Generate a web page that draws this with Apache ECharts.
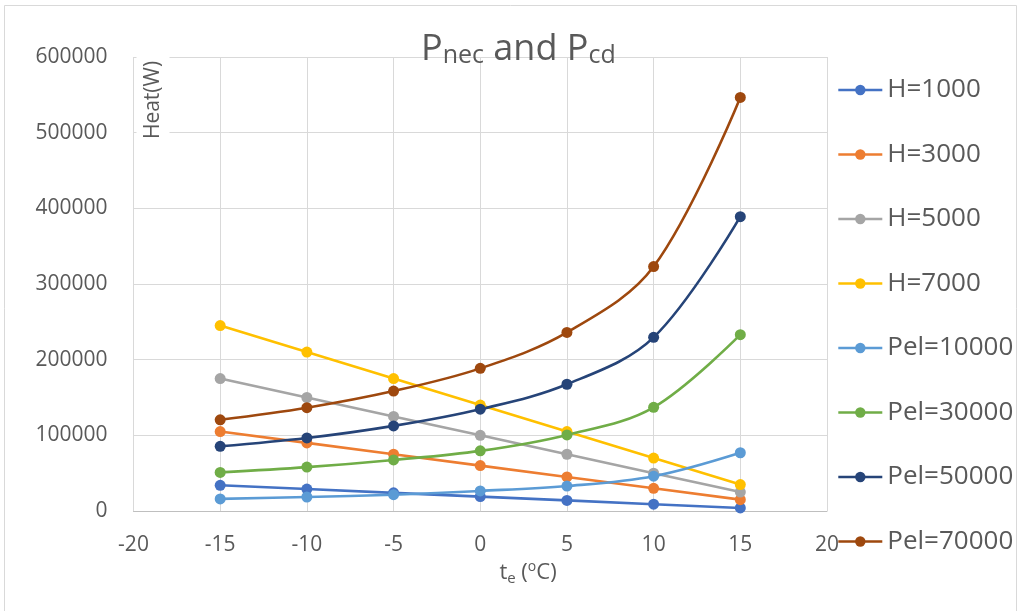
<!DOCTYPE html>
<html>
<head>
<meta charset="utf-8">
<script src="https://cdn.jsdelivr.net/npm/echarts@6/dist/echarts.min.js"></script>
<style>
html,body{margin:0;padding:0;background:#fff;}
#chart{width:1019px;height:611px;}
</style>
</head>
<body>
<div id="chart"></div>
<script>
// ---- data ----
const temps = [-15, -10, -5, 0, 5, 10, 15];
const seriesNames = ['H=1000', 'H=3000', 'H=5000', 'H=7000', 'Pel=10000', 'Pel=30000', 'Pel=50000', 'Pel=70000'];
const h1000 = [34000, 29000, 24000, 19000, 14000, 9000, 4000];
const h3000 = [105000, 90000, 75000, 60000, 45000, 30000, 15000];
const h5000 = [175000, 150000, 125000, 100000, 75000, 50000, 25000];
const h7000 = [245000, 210000, 175000, 140000, 105000, 70000, 35000];
const pel10000 = [16000, 18500, 21500, 26500, 33000, 46000, 77000];
const pel30000 = [51000, 58000, 67500, 79500, 100500, 137000, 233000];
const pel50000 = [85500, 96500, 112500, 134500, 167500, 229500, 389000];
const pel70000 = [120500, 136500, 158500, 188500, 236000, 323000, 546500];
const xTicks = [-20, -15, -10, -5, 0, 5, 10, 15, 20];
const yTicks = [0, 100000, 200000, 300000, 400000, 500000, 600000];

const allValues = [h1000, h3000, h5000, h7000, pel10000, pel30000, pel50000, pel70000];
const colors = ['#4472C4', '#ED7D31', '#A5A5A5', '#FFC000', '#5B9BD5', '#70AD47', '#264478', '#9E480E'];
const smoothFlags = [false, false, false, false, true, true, true, true];

const FONT = '"Open Sans", "DejaVu Sans", sans-serif';
const TXT = '#595959';

const chart = echarts.init(document.getElementById('chart'), null, {renderer: 'canvas'});

const series = seriesNames.map((name, i) => ({
  name: name,
  type: 'line',
  data: temps.map((t, k) => [t, allValues[i][k]]),
  smooth: smoothFlags[i] ? 0.35 : false,
  symbol: 'circle',
  symbolSize: 11,
  showSymbol: true,
  lineStyle: {color: colors[i], width: 2.6},
  itemStyle: {color: colors[i]},
  emphasis: {disabled: true}
}));

chart.setOption({
  animation: false,
  backgroundColor: '#fff',
  textStyle: {fontFamily: FONT},
  title: {
    left: 416,
    top: 23,
    text: '{a|P}{s|nec}{a| and P}{s|cd}',
    textStyle: {
      fontWeight: 'normal',
      rich: {
        a: {fontSize: 36, lineHeight: 40, verticalAlign: 'bottom', color: TXT, fontFamily: FONT, fontWeight: 'normal'},
        s: {fontSize: 25, lineHeight: 4, verticalAlign: 'bottom', color: TXT, fontFamily: FONT, fontWeight: 'normal'}
      }
    }
  },
  grid: {left: 133.5, right: 192, top: 57, bottom: 100, containLabel: false},
  legend: {
    orient: 'vertical',
    left: 832,
    top: 72,
    itemWidth: 44,
    itemHeight: 13,
    itemGap: 38.5,
    data: seriesNames,
    lineStyle: {width: 2.6},
    textStyle: {fontSize: 26, color: TXT, fontFamily: FONT, lineHeight: 26}
  },
  xAxis: {
    type: 'value',
    min: xTicks[0],
    max: xTicks[xTicks.length - 1],
    interval: 5,
    axisLine: {show: true, onZero: false, lineStyle: {color: '#BFBFBF', width: 1}},
    axisTick: {show: false},
    splitLine: {show: true, lineStyle: {color: '#D9D9D9', width: 1}},
    axisLabel: {fontSize: 21, color: TXT, margin: 24, fontFamily: FONT, formatter: v => String(v)}
  },
  yAxis: {
    type: 'value',
    min: yTicks[0],
    max: yTicks[yTicks.length - 1],
    interval: 100000,
    axisLine: {show: false},
    axisTick: {show: false},
    splitLine: {show: true, lineStyle: {color: '#D9D9D9', width: 1}},
    axisLabel: {fontSize: 21, color: TXT, margin: 26, fontFamily: FONT, formatter: v => String(v)}
  },
  graphic: [
    {
      type: 'rect',
      silent: true,
      shape: {x: 4.5, y: 5.5, width: 1012, height: 640},
      style: {fill: null, stroke: '#D9D9D9', lineWidth: 1},
      z: 0
    },
    {
      type: 'text',
      silent: true,
      x: 153,
      y: 100,
      rotation: Math.PI / 2,
      z: 50,
      style: {
        text: 'Heat(W)',
        fontSize: 21,
        fontFamily: FONT,
        fill: TXT,
        align: 'center',
        verticalAlign: 'middle',
        backgroundColor: '#fff',
        padding: [4, 4, 8, 4]
      }
    },
    {
      type: 'text',
      silent: true,
      x: 528,
      y: 573,
      z: 50,
      style: {
        text: '{a|t}{s|e}{a| (}{p|o}{a|C)}',
        align: 'center',
        verticalAlign: 'middle',
        rich: {
          a: {fontSize: 22, lineHeight: 26, verticalAlign: 'middle', fill: TXT, fontFamily: FONT},
          s: {fontSize: 15, lineHeight: 10, verticalAlign: 'bottom', fill: TXT, fontFamily: FONT},
          p: {fontSize: 14, lineHeight: 14, verticalAlign: 'top', fill: TXT, fontFamily: FONT}
        }
      }
    }
  ],
  series: series
});
</script>
</body>
</html>
